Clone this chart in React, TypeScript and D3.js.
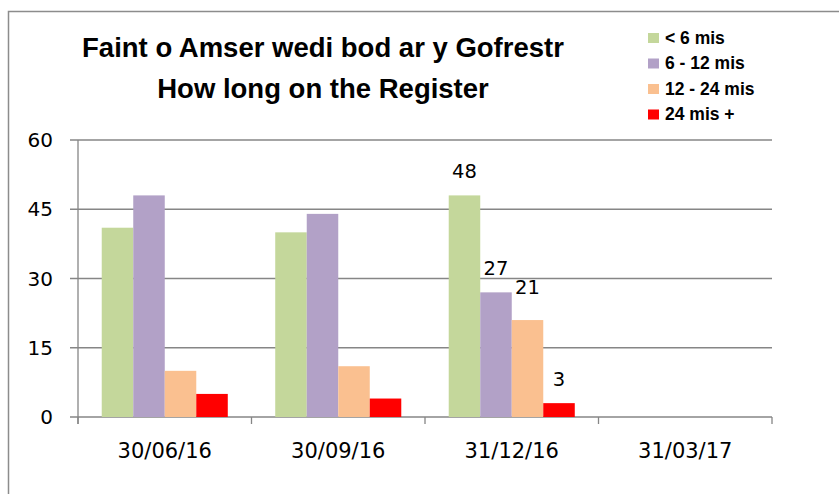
import React from "react";
import * as d3 from "d3";

const categories = ["30/06/16", "30/09/16", "31/12/16", "31/03/17"];
const seriesNames = ["< 6 mis", "6 - 12 mis", "12 - 24 mis", "24 mis +"];
const seriesColors = ["#c4d79b", "#b2a1c7", "#fac090", "#ff0000"];
const lessThan6 = [41, 40, 48, null];
const from6to12 = [48, 44, 27, null];
const from12to24 = [10, 11, 21, null];
const over24 = [5, 4, 3, null];
const yTicks = [0, 15, 30, 45, 60];
const labelledCategory = "31/12/16";
const titleLines = ["Faint o Amser wedi bod ar y Gofrestr", "How long on the Register"];

const seriesValues = [lessThan6, from6to12, from12to24, over24];

export default function App() {
  const W = 839, H = 494;
  const left = 78, right = 772, top = 140, bottom = 417;
  const x = d3.scaleBand().domain(categories).range([left, right]).paddingInner(0.2735).paddingOuter(0.1368);
  const x0 = d3.scaleBand().domain(categories).range([left, right]);
  const xs = d3.scaleBand().domain(seriesNames).range([0, x.bandwidth()]);
  const y = d3.scaleLinear().domain([0, 60]).range([bottom, top]);
  const font = "DejaVu Sans, Verdana, sans-serif";
  const boldFont = "Liberation Sans, Arial, sans-serif";
  const grey = "#868686";
  const boundaries = categories.map((c) => x0(c)!).concat([right]);
  return (
    <svg width={W} height={H} style={{ position: "absolute", left: 0, top: 0 }} fontFamily={font}>
      <rect x={0} y={0} width={W} height={H} fill="#fff" />
      <rect x={8.5} y={11.5} width={W + 10} height={H + 10} fill="none" stroke="#8c8c8c" strokeWidth={1.5} />
      {yTicks.map((t) => (
        <g key={t}>
          <line x1={70} x2={right} y1={y(t)} y2={y(t)} stroke={grey} strokeWidth={1.3} />
          <text x={53} y={y(t) + 7} textAnchor="end" fontSize={20} fill="#000">{t}</text>
        </g>
      ))}
      <line x1={left} x2={left} y1={top} y2={bottom + 7} stroke={grey} strokeWidth={1.3} />
      {boundaries.map((b, i) => (
        <line key={i} x1={b} x2={b} y1={bottom} y2={bottom + 7} stroke={grey} strokeWidth={1.3} />
      ))}
      {categories.map((c, ci) => (
        <g key={c}>
          {seriesNames.map((s, si) => {
            const v = seriesValues[si][ci];
            if (v == null) return null;
            const bx = x(c)! + xs(s)!;
            return <rect key={s} x={bx} y={y(v)} width={xs.bandwidth()} height={bottom - y(v)} fill={seriesColors[si]} />;
          })}
          {c === labelledCategory &&
            seriesNames.map((s, si) => {
              const v = seriesValues[si][ci];
              if (v == null) return null;
              const cx = x(c)! + xs(s)! + xs.bandwidth() / 2;
              const dy = si === 2 ? 26 : 17;
              return (
                <text key={s} x={cx} y={y(v) - dy} textAnchor="middle" fontSize={19.5} fill="#000">{v}</text>
              );
            })}
          <text x={x0(c)! + x0.bandwidth() / 2} y={458} textAnchor="middle" fontSize={21} fill="#000">{c}</text>
        </g>
      ))}
      {titleLines.map((t, i) => (
        <text key={i} x={323} y={57 + i * 41} textAnchor="middle" fontSize={27.5} fontWeight="bold" fontFamily={boldFont} fill="#000">{t}</text>
      ))}
      {seriesNames.map((s, i) => (
        <g key={s}>
          <rect x={648} y={33 + i * 25.5} width={11} height={10} fill={seriesColors[i]} />
          <text x={665} y={43.5 + i * 25.5} fontSize={17.5} fontWeight="bold" fontFamily={boldFont} fill="#000">{s}</text>
        </g>
      ))}
    </svg>
  );
}
